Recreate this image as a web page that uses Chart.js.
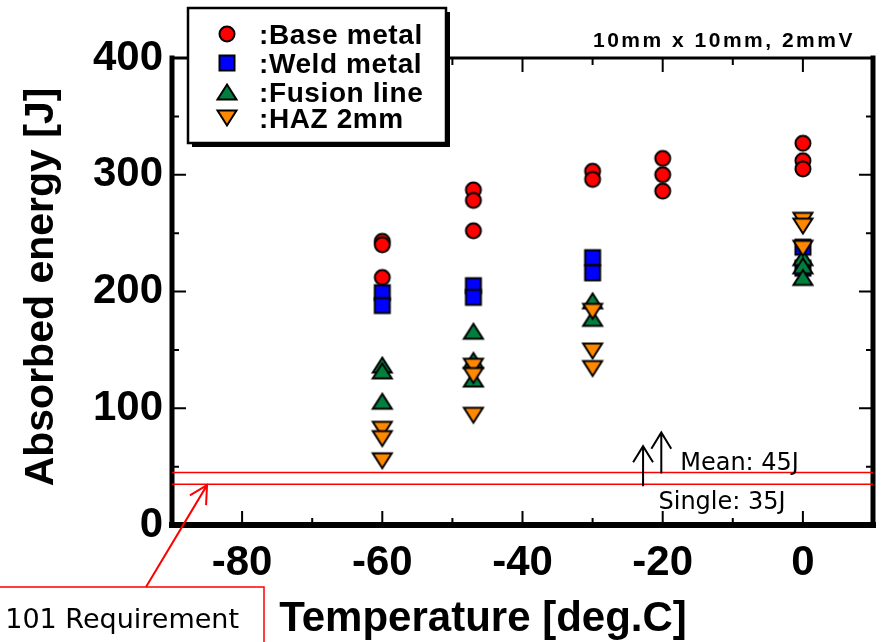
<!DOCTYPE html>
<html lang="en">
<head>
    <meta charset="UTF-8">
    <title>Absorbed energy vs temperature</title>
    <script src="https://cdn.jsdelivr.net/npm/chart.js"></script>
    <style>
        body { margin: 0; background: white; }
    </style>
</head>
<body>
    <canvas id="myChartCanvas" width="883" height="642"></canvas>
<script>
    // temperatura [deg.C] e energia absorvida [J]
    const baseTemp = [-60, -60, -60, -47, -47, -47, -30, -30, -20, -20, -20, 0, 0, 0];
    const baseEnergy = [243, 240, 212, 287, 278, 252, 303, 296, 314, 300, 286, 327, 312, 305];
    const weldTemp = [-60, -60, -47, -47, -30, -30, 0, 0];
    const weldEnergy = [199, 188, 205, 195, 229, 216, 238, 220];
    const fusionTemp = [-60, -60, -60, -47, -47, -47, -30, -30, 0, 0, 0];
    const fusionEnergy = [137, 132, 106, 166, 141, 125, 192, 177, 229, 222, 212];
    const hazTemp = [-60, -60, -60, -47, -47, -47, -30, -30, -30, 0, 0, 0];
    const hazEnergy = [82, 74, 55, 136, 128, 94, 183, 149, 134, 261, 256, 237];

    const seriesNames = [':Base metal', ':Weld metal', ':Fusion line', ':HAZ 2mm'];
    const xTicks = [-80, -60, -40, -20, 0];
    const yTicks = [0, 100, 200, 300, 400];
    const xRange = [-90, 10];
    const yRange = [0, 400];
    const reqMean = 45;
    const reqSingle = 35;

    // marcadores desenhados num canvas pequeno (centro = centro da caixa)
    function marcador(tipo, cor) {
        const c = document.createElement('canvas');
        c.width = 24; c.height = 24;
        const g = c.getContext('2d');
        g.fillStyle = cor;
        g.strokeStyle = '#000';
        g.lineWidth = 2;
        g.beginPath();
        if (tipo === 'circle') {
            g.arc(12, 12, 7.5, 0, Math.PI * 2);
        } else if (tipo === 'square') {
            g.rect(4.5, 4.5, 15, 15);
        } else if (tipo === 'up') {
            g.moveTo(12, 4.5); g.lineTo(21.5, 19.5); g.lineTo(2.5, 19.5); g.closePath();
        } else {
            g.moveTo(2.5, 4.5); g.lineTo(21.5, 4.5); g.lineTo(12, 19.5); g.closePath();
        }
        g.fill();
        g.stroke();
        return c;
    }

    const markers = [
        marcador('circle', '#ff0000'),
        marcador('square', '#0000ff'),
        marcador('up', '#007f3f'),
        marcador('down', '#ff8800')
    ];

    function pares(xs, ys) {
        return xs.map((x, i) => ({ x: x, y: ys[i] }));
    }

    const tickFont = { family: 'Liberation Sans', size: 42, weight: 'bold' };

    const molduraPlugin = {
        id: 'moldura',
        beforeDatasetsDraw(chart) {
            const ctx = chart.ctx;
            const a = chart.chartArea;
            const xs = chart.scales.x, ys = chart.scales.y;
            ctx.save();
            ctx.strokeStyle = '#000';
            ctx.lineWidth = 2;
            // ticks para dentro, nos quatro lados
            for (let v = -80; v <= 0; v += 10) {
                const px = xs.getPixelForValue(v);
                const len = v % 20 === 0 ? 14 : 7;
                ctx.beginPath();
                ctx.moveTo(px, a.bottom); ctx.lineTo(px, a.bottom - len);
                ctx.moveTo(px, a.top); ctx.lineTo(px, a.top + len);
                ctx.stroke();
            }
            for (let v = 50; v < 400; v += 50) {
                const py = ys.getPixelForValue(v);
                const len = v % 100 === 0 ? 14 : 7;
                ctx.beginPath();
                ctx.moveTo(a.left, py); ctx.lineTo(a.left + len, py);
                ctx.moveTo(a.right, py); ctx.lineTo(a.right - len, py);
                ctx.stroke();
            }
            // bordas
            ctx.lineCap = 'square';
            ctx.lineWidth = 3;
            ctx.beginPath(); ctx.moveTo(a.left, a.top); ctx.lineTo(a.right, a.top); ctx.stroke();
            ctx.lineWidth = 5;
            ctx.beginPath(); ctx.moveTo(a.left, a.top); ctx.lineTo(a.left, a.bottom); ctx.stroke();
            ctx.beginPath(); ctx.moveTo(a.right, a.top); ctx.lineTo(a.right, a.bottom); ctx.stroke();
            ctx.lineWidth = 6;
            ctx.beginPath(); ctx.moveTo(a.left, a.bottom); ctx.lineTo(a.right, a.bottom); ctx.stroke();
            ctx.restore();
        },
        afterDraw(chart) {
            const ctx = chart.ctx;
            const xs = chart.scales.x, ys = chart.scales.y;
            ctx.save();

            // titulos dos eixos
            ctx.fillStyle = '#000';
            ctx.font = 'bold 41px "Liberation Sans"';
            ctx.textAlign = 'center';
            ctx.textBaseline = 'alphabetic';
            ctx.save();
            ctx.translate(53, 287);
            ctx.rotate(-Math.PI / 2);
            ctx.fillText('Absorbed energy [J]', 0, 0);
            ctx.restore();
            ctx.font = 'bold 42px "Liberation Sans"';
            ctx.fillText('Temperature [deg.C]', 483, 631);

            // condicao do ensaio
            ctx.font = 'bold 21px "Liberation Sans"';
            ctx.textAlign = 'left';
            ctx.letterSpacing = '2.5px';
            ctx.fillText('10mm x 10mm, 2mmV', 593, 47);
            ctx.letterSpacing = '0px';

            // setas e textos dos requisitos
            const yMean = ys.getPixelForValue(reqMean);
            const ySingle = ys.getPixelForValue(reqSingle);
            const seta = (x0, y0, x1, y1, ang, len) => {
                ctx.beginPath();
                ctx.moveTo(x0, y0); ctx.lineTo(x1, y1);
                const dir = Math.atan2(y0 - y1, x0 - x1);
                ctx.moveTo(x1 + Math.cos(dir - ang) * len, y1 + Math.sin(dir - ang) * len);
                ctx.lineTo(x1, y1);
                ctx.lineTo(x1 + Math.cos(dir + ang) * len, y1 + Math.sin(dir + ang) * len);
                ctx.stroke();
            };
            ctx.strokeStyle = '#000';
            ctx.lineWidth = 2;
            const xa = xs.getPixelForValue(-22.8);
            const xb = xs.getPixelForValue(-20.2);
            seta(xa, ySingle + 2, xa, ySingle - 38, 0.55, 19);
            seta(xb, yMean + 1, xb, yMean - 40, 0.55, 19);
            ctx.font = '24px "DejaVu Sans"';
            ctx.fillText('Mean: 45J', xs.getPixelForValue(-17.5), yMean - 2);
            ctx.fillText('Single: 35J', xs.getPixelForValue(-20.6), ySingle + 25);

            // caixa vermelha do requisito
            ctx.strokeStyle = '#ff0000';
            ctx.lineWidth = 2;
            const tipX = xs.getPixelForValue(-85);
            seta(146, 587, tipX, ySingle + 1, 0.49, 20);
            ctx.lineWidth = 1.5;
            ctx.strokeRect(-10, 587, 274, 70);
            ctx.fillStyle = '#000';
            ctx.textAlign = 'right';
            ctx.font = '27px "DejaVu Sans"';
            ctx.fillText('101 Requirement', 239, 628);

            // legenda
            const bx = 188, by = 8, bw = 258, bh = 135;
            ctx.fillStyle = '#000';
            ctx.fillRect(bx + 4, by + 4, bw, bh);
            ctx.fillStyle = '#fff';
            ctx.fillRect(bx, by, bw, bh);
            ctx.strokeStyle = '#000';
            ctx.lineWidth = 2.5;
            ctx.strokeRect(bx, by, bw, bh);
            ctx.fillStyle = '#000';
            ctx.textAlign = 'left';
            ctx.font = 'bold 28px "Liberation Sans"';
            ctx.letterSpacing = '0.6px';
            const rows = [34, 63, 92, 118];
            seriesNames.forEach((nome, i) => {
                const m = markers[i];
                ctx.drawImage(m, 227 - m.width / 2, rows[i] - m.height / 2);
                ctx.fillText(nome, 259, rows[i] + 10);
            });
            ctx.restore();
        }
    };

    const ctx = document.getElementById('myChartCanvas').getContext('2d');
    const chartInstance = new Chart(ctx, {
        type: 'scatter',
        data: {
            datasets: [{
                label: seriesNames[0],
                data: pares(baseTemp, baseEnergy),
                pointStyle: markers[0],
                pointRadius: 8,
                order: 4
            }, {
                label: seriesNames[1],
                data: pares(weldTemp, weldEnergy),
                pointStyle: markers[1],
                pointRadius: 8,
                order: 3
            }, {
                label: seriesNames[2],
                data: pares(fusionTemp, fusionEnergy),
                pointStyle: markers[2],
                pointRadius: 8,
                order: 2
            }, {
                label: seriesNames[3],
                data: pares(hazTemp, hazEnergy),
                pointStyle: markers[3],
                pointRadius: 8,
                order: 1
            }, {
                label: 'Mean',
                type: 'line',
                data: xRange.map(x => ({ x: x, y: reqMean })),
                borderColor: '#ff0000',
                borderWidth: 1.5,
                pointRadius: 0,
                order: 6
            }, {
                label: 'Single',
                type: 'line',
                data: xRange.map(x => ({ x: x, y: reqSingle })),
                borderColor: '#ff0000',
                borderWidth: 1.5,
                pointRadius: 0,
                order: 6
            }]
        },
        options: {
            responsive: false,
            animation: false,
            events: [],
            layout: { padding: { left: 0, right: 10, top: 58, bottom: 0 } },
            plugins: {
                legend: { display: false },
                tooltip: { enabled: false }
            },
            scales: {
                x: {
                    type: 'linear',
                    min: xRange[0],
                    max: xRange[1],
                    afterBuildTicks: s => { s.ticks = xTicks.map(v => ({ value: v })); },
                    afterFit: s => { s.height = 117; },
                    grid: { display: false },
                    border: { display: false },
                    ticks: { font: tickFont, color: '#000', padding: 5, maxRotation: 0, autoSkip: false }
                },
                y: {
                    min: yRange[0],
                    max: yRange[1],
                    afterBuildTicks: s => { s.ticks = yTicks.map(v => ({ value: v })); },
                    afterFit: s => { s.width = 172; },
                    grid: { display: false },
                    border: { display: false },
                    ticks: { font: tickFont, color: '#000', padding: 1 }
                }
            }
        },
        plugins: [molduraPlugin]
    });
</script>
</body>
</html>
